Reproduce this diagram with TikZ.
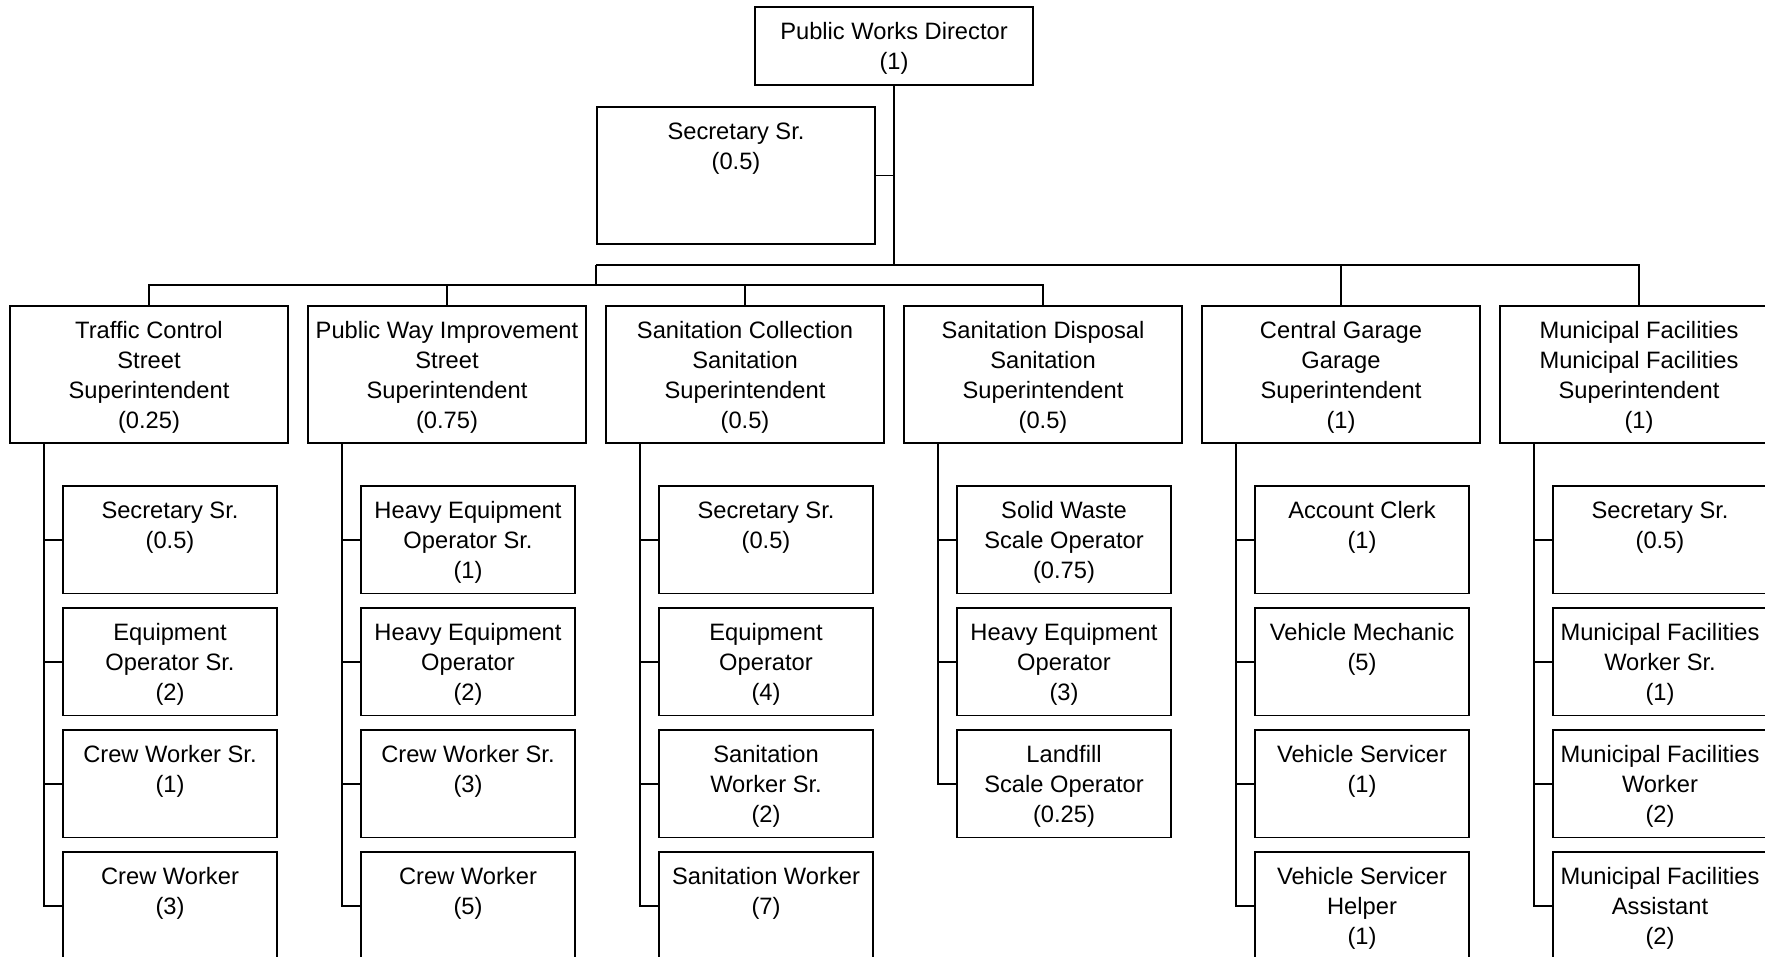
\documentclass[tikz,border=0pt]{standalone}
\usepackage{fontspec}
\setmainfont{Liberation Sans}
\newcommand\firstlinestrut{\rule{0pt}{20pt}}
% org box: name, left x, top y, width, height, text (top aligned)
\newcommand\orgbox[6]{%
  \node[boxst, minimum width=#4pt, minimum height=#5pt, anchor=north west] (#1) at (#2,#3) {};
  \node[txtst] (#1-t) at ([yshift=-12.5pt]#1.north) {\firstlinestrut #6};}
\begin{document}
\begin{tikzpicture}[x=1pt,y=-1pt,
  boxst/.style={draw, rectangle, inner sep=0pt, outer sep=0pt, line width=1.5pt},
  txtst/.style={anchor=north, inner sep=0pt, align=center,
    font=\fontsize{23.7}{29.8}\selectfont},
  wire/.style={line width=1.5pt}]
\clip (0,0) rectangle (1765,957);
\fill[white] (0,0) rectangle (1765,957);

% director and staff
\orgbox{dir}{755}{7}{278}{78}{Public Works Director\\(1)}
\orgbox{sec}{597}{107}{278}{137}{Secretary Sr.\\(0.5)}

% divisions
\orgbox{tc}{10}{306}{278}{137}{Traffic Control\\Street\\Superintendent\\(0.25)}
\orgbox{pw}{308}{306}{278}{137}{Public Way Improvement\\Street\\Superintendent\\(0.75)}
\orgbox{sc}{606}{306}{278}{137}{Sanitation Collection\\Sanitation\\Superintendent\\(0.5)}
\orgbox{sd}{904}{306}{278}{137}{Sanitation Disposal\\Sanitation\\Superintendent\\(0.5)}
\orgbox{cg}{1202}{306}{278}{137}{Central Garage\\Garage\\Superintendent\\(1)}
\orgbox{mf}{1500}{306}{278}{137}{Municipal Facilities\\Municipal Facilities\\Superintendent\\(1)}

% traffic control staff
\orgbox{tc1}{63}{486}{214}{107.5}{Secretary Sr.\\(0.5)}
\orgbox{tc2}{63}{608}{214}{107.5}{Equipment\\Operator Sr.\\(2)}
\orgbox{tc3}{63}{730}{214}{107.5}{Crew Worker Sr.\\(1)}
\orgbox{tc4}{63}{852}{214}{107.5}{Crew Worker\\(3)}

% public way improvement staff
\orgbox{pw1}{361}{486}{214}{107.5}{Heavy Equipment\\Operator Sr.\\(1)}
\orgbox{pw2}{361}{608}{214}{107.5}{Heavy Equipment\\Operator\\(2)}
\orgbox{pw3}{361}{730}{214}{107.5}{Crew Worker Sr.\\(3)}
\orgbox{pw4}{361}{852}{214}{107.5}{Crew Worker\\(5)}

% sanitation collection staff
\orgbox{sc1}{659}{486}{214}{107.5}{Secretary Sr.\\(0.5)}
\orgbox{sc2}{659}{608}{214}{107.5}{Equipment\\Operator\\(4)}
\orgbox{sc3}{659}{730}{214}{107.5}{Sanitation\\Worker Sr.\\(2)}
\orgbox{sc4}{659}{852}{214}{107.5}{Sanitation Worker\\(7)}

% sanitation disposal staff
\orgbox{sd1}{957}{486}{214}{107.5}{Solid Waste\\Scale Operator\\(0.75)}
\orgbox{sd2}{957}{608}{214}{107.5}{Heavy Equipment\\Operator\\(3)}
\orgbox{sd3}{957}{730}{214}{107.5}{Landfill\\Scale Operator\\(0.25)}

% central garage staff
\orgbox{cg1}{1255}{486}{214}{107.5}{Account Clerk\\(1)}
\orgbox{cg2}{1255}{608}{214}{107.5}{Vehicle Mechanic\\(5)}
\orgbox{cg3}{1255}{730}{214}{107.5}{Vehicle Servicer\\(1)}
\orgbox{cg4}{1255}{852}{214}{107.5}{Vehicle Servicer\\Helper\\(1)}

% municipal facilities staff
\orgbox{mf1}{1553}{486}{214}{107.5}{Secretary Sr.\\(0.5)}
\orgbox{mf2}{1553}{608}{214}{107.5}{Municipal Facilities\\Worker Sr.\\(1)}
\orgbox{mf3}{1553}{730}{214}{107.5}{Municipal Facilities\\Worker\\(2)}
\orgbox{mf4}{1553}{852}{214}{107.5}{Municipal Facilities\\Assistant\\(2)}

% bus coordinates
\coordinate (uL) at (596,265);
\coordinate (lL) at (149,285);

% top-level connectors
\draw[wire] (dir.south) -- (dir.south |- uL);
\draw[wire] (sec.east) -- (sec.east -| dir.south);
\draw[wire] (uL) -- (uL -| mf.north) -- (mf.north);
\draw[wire] (uL) -- (uL |- lL);
\draw[wire] (cg.north |- uL) -- (cg.north);
\draw[wire] (tc.north) -- (tc.north |- lL) -- (lL -| sd.north) -- (sd.north);
\draw[wire] (pw.north |- lL) -- (pw.north);
\draw[wire] (sc.north |- lL) -- (sc.north);

% staff connectors: a spine from each division with side branches
\foreach \d/\last in {tc/4, pw/4, sc/4, sd/3, cg/4, mf/4} {
  \coordinate (\d-v) at ([xshift=34pt]\d.south west);
  \draw[wire] (\d-v) |- (\d\last.west);
  \foreach \i in {1,...,\last} {
    \draw[wire] (\d\i.west) -- (\d\i.west -| \d-v);
  }
}
\end{tikzpicture}
\end{document}
